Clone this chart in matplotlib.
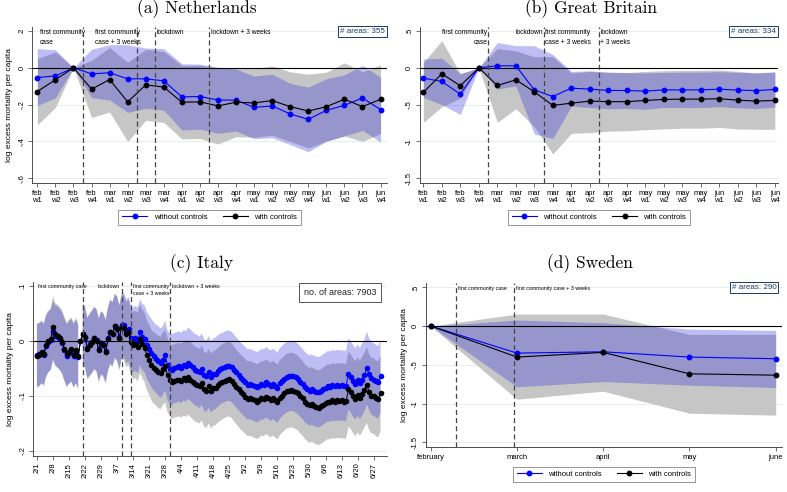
import numpy as np
import matplotlib
matplotlib.use('Agg')
import matplotlib.pyplot as plt

plt.rcParams['font.family'] = ['Liberation Sans', 'DejaVu Sans']

BLUE = '#0000ff'
BAND_BLUE = (40 / 255, 40 / 255, 220 / 255)
GREY = '#c6c6c6'
GRID = '#e2ecee'
DASH = '#444444'
FS = 5.5

# ---------------- Netherlands / Great Britain (weekly) ----------------
weeks = ['feb\nw1', 'feb\nw2', 'feb\nw3', 'feb\nw4', 'mar\nw1', 'mar\nw2', 'mar\nw3',
         'mar\nw4', 'apr\nw1', 'apr\nw2', 'apr\nw3', 'apr\nw4', 'may\nw1', 'may\nw2',
         'may\nw3', 'may\nw4', 'jun\nw1', 'jun\nw2', 'jun\nw3', 'jun\nw4']

nl_wo = [-0.053, -0.044, 0.0, -0.033, -0.027, -0.060, -0.060, -0.071, -0.158, -0.156,
         -0.175, -0.176, -0.215, -0.207, -0.251, -0.280, -0.231, -0.204, -0.164, -0.227]
nl_wo_hi = [0.104, 0.098, 0.0, 0.100, 0.125, 0.125, 0.107, 0.104, 0.022, 0.020,
            0.002, -0.007, -0.045, -0.035, -0.085, -0.105, -0.060, -0.038, 0.013, -0.051]
nl_wo_lo = [-0.205, -0.162, 0.0, -0.162, -0.175, -0.242, -0.220, -0.230, -0.338, -0.333,
            -0.356, -0.344, -0.385, -0.380, -0.417, -0.456, -0.400, -0.370, -0.340, -0.403]
nl_w = [-0.129, -0.065, 0.0, -0.116, -0.064, -0.185, -0.093, -0.105, -0.187, -0.185,
        -0.207, -0.187, -0.191, -0.178, -0.211, -0.235, -0.211, -0.171, -0.211, -0.171]
nl_w_hi = [0.050, 0.085, 0.0, 0.040, 0.110, 0.030, 0.100, 0.088, 0.012, 0.013,
           0.000, 0.000, -0.005, 0.010, -0.022, -0.035, -0.024, 0.027, -0.022, 0.015]
nl_w_lo = [-0.310, -0.215, 0.0, -0.270, -0.240, -0.400, -0.285, -0.297, -0.386, -0.384,
           -0.414, -0.374, -0.377, -0.366, -0.400, -0.435, -0.398, -0.370, -0.400, -0.357]

gb_wo = [-0.140, -0.186, -0.357, 0.0, 0.027, 0.027, -0.300, -0.390, -0.276, -0.290,
         -0.308, -0.308, -0.317, -0.300, -0.300, -0.300, -0.290, -0.303, -0.310, -0.294]
gb_wo_hi = [0.120, 0.130, -0.080, 0.0, 0.344, 0.300, 0.300, 0.180, -0.050, -0.040,
            -0.060, -0.065, -0.070, -0.062, -0.060, -0.060, -0.052, -0.062, -0.068, -0.055]
gb_wo_lo = [-0.400, -0.500, -0.634, 0.0, -0.290, -0.246, -0.900, -0.960, -0.520, -0.540,
            -0.556, -0.551, -0.564, -0.538, -0.540, -0.540, -0.528, -0.544, -0.552, -0.533]
gb_w = [-0.335, -0.081, -0.244, 0.0, -0.240, -0.163, -0.326, -0.511, -0.480, -0.452,
        -0.460, -0.460, -0.443, -0.430, -0.425, -0.425, -0.420, -0.439, -0.452, -0.443]
gb_w_hi = [0.070, 0.370, -0.080, 0.0, 0.260, 0.230, 0.150, 0.150, -0.070, -0.050,
           -0.060, -0.065, -0.050, -0.040, -0.035, -0.035, -0.030, -0.048, -0.070, -0.060]
gb_w_lo = [-0.740, -0.530, -0.410, 0.0, -0.740, -0.556, -0.800, -1.170, -0.890, -0.880,
           -0.860, -0.855, -0.840, -0.830, -0.820, -0.820, -0.810, -0.830, -0.835, -0.835]

# ---------------- Sweden (monthly) ----------------
months = ['february', 'march', 'april', 'may', 'june']
se_wo = [0.0, -0.349, -0.332, -0.400, -0.422]
se_wo_hi = [0.0, 0.078, 0.043, -0.039, -0.056]
se_wo_lo = [0.0, -0.784, -0.716, -0.763, -0.793]
se_w = [0.0, -0.400, -0.340, -0.616, -0.634]
se_w_hi = [0.0, 0.155, 0.155, -0.108, -0.108]
se_w_lo = [0.0, -0.944, -0.840, -1.125, -1.150]

# ---------------- Italy (daily, 2/1 .. 6/30) ----------------
it_dates = ['2/1', '2/8', '2/15', '2/22', '2/29', '3/7', '3/14', '3/21', '3/28', '4/4', '4/11',
            '4/18', '4/25', '5/2', '5/9', '5/16', '5/23', '5/30', '6/6', '6/13', '6/20', '6/27']
it_w = [
    -0.027, -0.025, -0.019, -0.024, -0.008, 0.000, 0.004,
    0.025, 0.013, 0.009, 0.005, -0.002, -0.014, -0.024,
    -0.019, -0.015, -0.025, -0.017, -0.027,
    0.0,
    0.013, 0.008, -0.014, -0.008, -0.002, 0.005, 0.001,
    -0.017, -0.004, -0.008, -0.020, 0.003, 0.016, 0.012,
    0.027, 0.022, 0.005, 0.026, 0.024, 0.012, 0.016,
    -0.002, -0.008, -0.006, -0.011, 0.004, -0.005, -0.012,
    -0.026, -0.034, -0.044, -0.049, -0.052, -0.056, -0.058,
    -0.050, -0.046, -0.062, -0.070, -0.075, -0.072, -0.071,
    -0.070, -0.072, -0.068, -0.070, -0.066, -0.070, -0.074,
    -0.078, -0.080, -0.082, -0.076, -0.088, -0.090, -0.082,
    -0.091, -0.086, -0.085, -0.080, -0.077, -0.074, -0.072,
    -0.070, -0.069, -0.072, -0.078, -0.083, -0.088, -0.093,
    -0.097, -0.101, -0.105, -0.104, -0.106, -0.108, -0.110,
    -0.108, -0.104, -0.105, -0.101, -0.104, -0.107, -0.104,
    -0.107, -0.111, -0.103, -0.099, -0.095, -0.091, -0.090,
    -0.089, -0.090, -0.092, -0.095, -0.100, -0.104, -0.110,
    -0.114, -0.117, -0.115, -0.118, -0.120, -0.121, -0.119,
    -0.116, -0.113, -0.110, -0.111, -0.108, -0.110, -0.108,
    -0.109, -0.108, -0.110, -0.109, -0.088, -0.092, -0.099,
    -0.105, -0.098, -0.104, -0.097, -0.089, -0.080, -0.092,
    -0.099, -0.100, -0.104, -0.106, -0.095]
it_wo = [
    -0.026, -0.024, -0.021, -0.025, -0.009, -0.002, 0.002,
    0.018, 0.010, 0.007, 0.003, -0.004, -0.016, -0.027,
    -0.021, -0.017, -0.027, -0.019, -0.029,
    0.0,
    0.012, 0.006, -0.012, -0.006, -0.001, 0.006, 0.002,
    -0.015, -0.003, -0.006, -0.018, 0.005, 0.017, 0.013,
    0.028, 0.023, 0.008, 0.029, 0.030, 0.018, 0.022,
    0.006, 0.002, 0.005, 0.001, 0.016, 0.008, 0.004,
    -0.008, -0.015, -0.022, -0.028, -0.032, -0.036, -0.040,
    -0.035, -0.026, -0.044, -0.050, -0.052, -0.049, -0.048,
    -0.046, -0.049, -0.044, -0.046, -0.040, -0.044, -0.048,
    -0.052, -0.054, -0.057, -0.051, -0.062, -0.064, -0.056,
    -0.065, -0.060, -0.059, -0.054, -0.051, -0.049, -0.047,
    -0.045, -0.045, -0.047, -0.052, -0.057, -0.062, -0.067,
    -0.071, -0.075, -0.079, -0.078, -0.080, -0.082, -0.084,
    -0.082, -0.078, -0.079, -0.075, -0.078, -0.081, -0.078,
    -0.081, -0.085, -0.077, -0.073, -0.069, -0.066, -0.064,
    -0.063, -0.064, -0.066, -0.069, -0.074, -0.078, -0.084,
    -0.087, -0.090, -0.088, -0.091, -0.092, -0.093, -0.091,
    -0.088, -0.085, -0.082, -0.083, -0.080, -0.082, -0.080,
    -0.081, -0.080, -0.082, -0.081, -0.060, -0.065, -0.072,
    -0.078, -0.071, -0.077, -0.070, -0.062, -0.049, -0.060,
    -0.068, -0.070, -0.073, -0.075, -0.064]
# half-widths of the 95% bands (nan = reference day, no band)
it_wo_hw = [
    0.057, 0.057, 0.056, 0.056, 0.056, 0.055, 0.055,
    0.055, 0.055, 0.056, 0.056, 0.056, 0.057, 0.057,
    0.057, 0.057, 0.058, 0.058, 0.058,
    np.nan,
    0.055, 0.055, 0.055, 0.056, 0.056, 0.056, 0.056,
    0.057, 0.057, 0.057, 0.057, 0.057, 0.058, 0.058,
    0.058, 0.058, 0.058, 0.058, 0.058, 0.058, 0.058,
    0.059, 0.059, 0.059, 0.060, 0.060, 0.060, 0.061,
    0.061, 0.061, 0.062, 0.062, 0.062, 0.063, 0.063,
    0.063, 0.063, 0.063, 0.064, 0.064, 0.064, 0.064,
    0.064, 0.064, 0.064, 0.064, 0.065, 0.065, 0.065,
    0.065, 0.065, 0.065, 0.065, 0.065, 0.065, 0.065,
    0.065, 0.065, 0.065, 0.065, 0.064, 0.064, 0.064,
    0.064, 0.064, 0.064, 0.064, 0.064, 0.064, 0.064,
    0.064, 0.064, 0.064, 0.064, 0.064, 0.064, 0.064,
    0.064, 0.064, 0.064, 0.064, 0.064, 0.064, 0.064,
    0.064, 0.064, 0.064, 0.064, 0.064, 0.064, 0.064,
    0.064, 0.064, 0.064, 0.064, 0.064, 0.064, 0.064,
    0.064, 0.064, 0.064, 0.064, 0.064, 0.064, 0.064,
    0.064, 0.064, 0.064, 0.064, 0.064, 0.064, 0.064,
    0.064, 0.064, 0.064, 0.064, 0.065, 0.065, 0.065,
    0.065, 0.065, 0.065, 0.065, 0.065, 0.066, 0.066,
    0.066, 0.066, 0.066, 0.066, 0.066]
it_w_hw = [
    0.058, 0.058, 0.057, 0.057, 0.057, 0.056, 0.056,
    0.056, 0.056, 0.057, 0.057, 0.057, 0.058, 0.058,
    0.058, 0.058, 0.059, 0.059, 0.059,
    np.nan,
    0.056, 0.056, 0.056, 0.057, 0.057, 0.057, 0.057,
    0.058, 0.058, 0.058, 0.058, 0.058, 0.059, 0.059,
    0.059, 0.059, 0.059, 0.059, 0.059, 0.059, 0.060,
    0.060, 0.061, 0.061, 0.062, 0.062, 0.062, 0.063,
    0.063, 0.064, 0.064, 0.065, 0.065, 0.066, 0.066,
    0.066, 0.066, 0.067, 0.067, 0.067, 0.067, 0.067,
    0.067, 0.067, 0.067, 0.068, 0.068, 0.068, 0.068,
    0.068, 0.068, 0.068, 0.068, 0.068, 0.068, 0.068,
    0.068, 0.068, 0.068, 0.068, 0.068, 0.068, 0.068,
    0.068, 0.068, 0.068, 0.068, 0.068, 0.068, 0.068,
    0.068, 0.068, 0.068, 0.068, 0.068, 0.068, 0.068,
    0.068, 0.068, 0.068, 0.068, 0.068, 0.068, 0.068,
    0.068, 0.068, 0.068, 0.068, 0.068, 0.068, 0.068,
    0.068, 0.068, 0.068, 0.068, 0.068, 0.068, 0.068,
    0.068, 0.068, 0.068, 0.068, 0.068, 0.068, 0.068,
    0.068, 0.068, 0.068, 0.068, 0.068, 0.068, 0.068,
    0.068, 0.068, 0.068, 0.068, 0.068, 0.068, 0.068,
    0.068, 0.068, 0.068, 0.068, 0.068, 0.069, 0.069,
    0.069, 0.069, 0.069, 0.069, 0.069]


def style_axes(ax, yticks, ylabels, ylim):
    ax.set_ylim(*ylim)
    ax.set_yticks(yticks)
    ax.set_yticklabels(ylabels, rotation=90, va='center', fontsize=FS)
    for v in yticks:
        ax.axhline(v, color=GRID, lw=0.6, zorder=0)
    ax.axhline(0, color='black', lw=0.8, zorder=2)
    for s in ['top', 'right']:
        ax.spines[s].set_visible(False)
    for s in ['left', 'bottom']:
        ax.spines[s].set_color('#333333')
        ax.spines[s].set_linewidth(0.6)
    ax.tick_params(length=3, width=0.5, color='#333333', labelsize=FS, pad=2)


def draw_series(ax, x, wo, wo_lo, wo_hi, w, w_lo, w_hi, ms, lw):
    ax.fill_between(x, w_lo, w_hi, color=GREY, lw=0, zorder=1)
    ax.fill_between(x, wo_lo, wo_hi, color=BAND_BLUE, alpha=0.3, lw=0, zorder=1)
    ax.plot(x, wo, color=BLUE, lw=lw, marker='o', ms=ms, zorder=3, label='without controls')
    ax.plot(x, w, color='black', lw=lw, marker='o', ms=ms, zorder=4, label='with controls')


def vline(ax, x):
    ax.axvline(x, color=DASH, lw=0.9, dashes=(4, 2.5), zorder=5)


def areas_box(ax, text, x, y, ha, va, fs, color):
    ax.text(x, y, text, transform=ax.transAxes, ha=ha, va=va, fontsize=fs, color=color,
            bbox=dict(boxstyle='square,pad=0.25', fc='white', ec=color, lw=0.7), zorder=6)


def legend(ax, y):
    ax.legend(loc='center', bbox_to_anchor=(0.5, y), ncol=2, fontsize=FS, frameon=True,
              fancybox=False, edgecolor='#666666', handlelength=3.3, columnspacing=2.0,
              borderpad=0.5, handletextpad=0.8).get_frame().set_linewidth(0.6)


fig = plt.figure(figsize=(7.87, 4.92), dpi=100)
W, H = 787, 492


def make_axes(x0, y0, x1, y1):
    return fig.add_axes([x0 / W, 1 - y1 / H, (x1 - x0) / W, (y1 - y0) / H])


TITLE = dict(family='cmr10', fontsize=12.5, ha='center', va='center')

# ---- (a) Netherlands
ax = make_axes(32.3, 26.7, 386.7, 182.7)
xw = np.arange(len(weeks))
draw_series(ax, xw, nl_wo, nl_wo_lo, nl_wo_hi, nl_w, nl_w_lo, nl_w_hi, 3.2, 0.8)
style_axes(ax, [0.2, 0, -0.2, -0.4, -0.6], ['.2', '0', '-.2', '-.4', '-.6'], (-0.624, 0.223))
ax.set_xlim(-0.28, 19.34)
ax.set_xticks(xw)
ax.set_xticklabels(weeks, fontsize=FS, linespacing=1.0)
ax.set_ylabel('log excess mortality per capita', fontsize=6, labelpad=4)
for xv in [2.5, 5.5, 6.5, 9.5]:
    vline(ax, xv)
lab = dict(fontsize=4.8, va='top', ha='left', linespacing=1.6, transform=ax.get_xaxis_transform())
ax.text(0.15, 0.985, 'first community\ncase', **lab)
ax.text(3.2, 0.985, 'first community\ncase + 3 weeks', **lab)
ax.text(6.6, 0.985, 'lockdown', **lab)
ax.text(9.6, 0.985, 'lockdown + 3 weeks', **lab)
areas_box(ax, '# areas: 355', 0.995, 0.992, 'right', 'top', 5.8, '#1a3a6a')
legend(ax, -0.223)
fig.text(197 / W, 1 - 9 / H, '(a) Netherlands', **TITLE)

# ---- (b) Great Britain
ax = make_axes(420, 26.7, 778, 182.7)
draw_series(ax, xw, gb_wo, gb_wo_lo, gb_wo_hi, gb_w, gb_w_lo, gb_w_hi, 3.2, 0.8)
style_axes(ax, [0.5, 0, -0.5, -1, -1.5], ['.5', '0', '-.5', '-1', '-1.5'], (-1.56, 0.558))
ax.set_xlim(-0.18, 19.17)
ax.set_xticks(xw)
ax.set_xticklabels(weeks, fontsize=FS, linespacing=1.0)
for xv in [3.5, 6.5, 9.5]:
    vline(ax, xv)
lab = dict(fontsize=4.8, va='top', linespacing=1.6, transform=ax.get_xaxis_transform())
ax.text(3.45, 0.985, 'first community\ncase', ha='right', multialignment='right', **lab)
ax.text(6.45, 0.985, 'lockdown', ha='right', **lab)
ax.text(6.55, 0.985, 'first community\ncase + 3 weeks', ha='left', **lab)
ax.text(9.55, 0.985, 'lockdown\n+ 3 weeks', ha='left', **lab)
areas_box(ax, '# areas: 334', 0.995, 0.992, 'right', 'top', 5.8, '#1a3a6a')
legend(ax, -0.223)
fig.text(591 / W, 1 - 9 / H, '(b) Great Britain', **TITLE)

# ---- (c) Italy
ax = make_axes(33.3, 281.7, 386.7, 455.7)
xd = np.arange(len(it_w))
wo = np.array(it_wo)
w = np.array(it_w)
hw_wo = np.array(it_wo_hw)
hw_w = np.array(it_w_hw)
draw_series(ax, xd, wo, wo - hw_wo, wo + hw_wo, w, w - hw_w, w + hw_w, 3.0, 0.7)
style_axes(ax, [0.1, 0, -0.1, -0.2], ['.1', '0', '-.1', '-.2'], (-0.2085, 0.108))
ax.set_xlim(-1.6, 152.7)
ax.set_xticks(np.arange(len(it_dates)) * 7)
ax.set_xticklabels(it_dates, rotation=90, fontsize=FS)
ax.set_ylabel('log excess mortality per capita', fontsize=6, labelpad=4)
for xv in [20, 37, 41, 58]:
    vline(ax, xv)
lab = dict(fontsize=3.8, va='top', ha='left', linespacing=1.3, transform=ax.get_xaxis_transform())
ax.text(0.3, 0.985, 'first community case', **lab)
ax.text(26.5, 0.985, 'lockdown', **lab)
ax.text(42, 0.985, 'first community\ncase + 3 weeks', **lab)
ax.text(58.8, 0.985, 'lockdown + 3 weeks', **lab)
ax.text(0.868, 0.937, 'no. of areas: 7903', transform=ax.transAxes, ha='center', va='center',
        fontsize=6.5, color='#222222',
        bbox=dict(boxstyle='square,pad=0.55', fc='white', ec='#555555', lw=0.7), zorder=6)
fig.text(201 / W, 1 - 264 / H, '(c) Italy', **TITLE)

# ---- (d) Sweden
ax = make_axes(426, 283.3, 781.7, 446.7)
xm = np.arange(len(months))
draw_series(ax, xm, se_wo, se_wo_lo, se_wo_hi, se_w, se_w_lo, se_w_hi, 3.2, 0.8)
style_axes(ax, [0.5, 0, -0.5, -1, -1.5], ['.5', '0', '-.5', '-1', '-1.5'], (-1.557, 0.552))
ax.set_xlim(-0.055, 4.07)
ax.set_xticks(xm)
ax.set_xticklabels(months, fontsize=FS)
ax.set_ylabel('log excess mortality per capita', fontsize=6, labelpad=3)
for xv in [0.29, 0.97]:
    vline(ax, xv)
lab = dict(fontsize=3.8, va='top', ha='left', transform=ax.get_xaxis_transform())
ax.text(0.32, 0.985, 'first community case', **lab)
ax.text(0.99, 0.985, 'first community case + 3 weeks', **lab)
areas_box(ax, '# areas: 290', 0.985, 0.995, 'right', 'top', 5.8, '#1a3a6a')
legend(ax, -0.17)
fig.text(589.5 / W, 1 - 264 / H, '(d) Sweden', **TITLE)

fig.savefig('out.png', dpi=100, facecolor='white')
